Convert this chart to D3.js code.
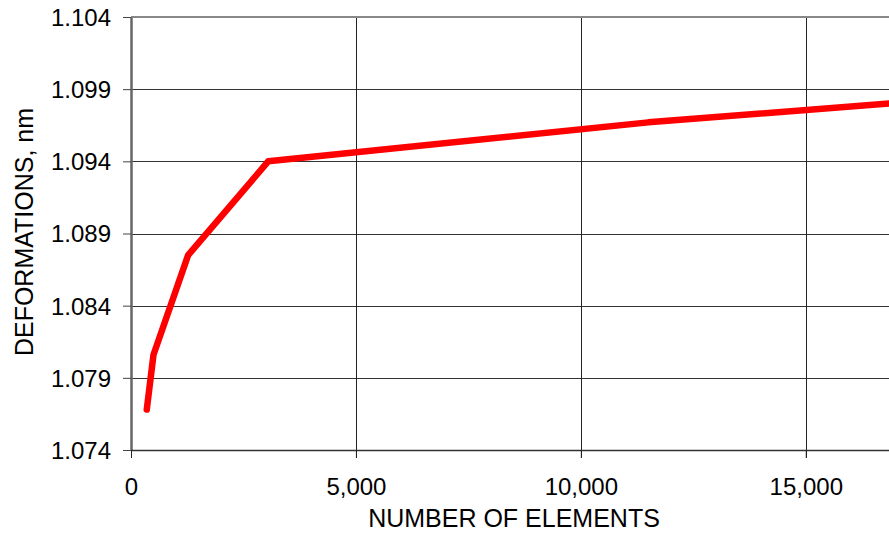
<!DOCTYPE html>
<html>
<head>
<meta charset="utf-8">
<script src="https://cdn.jsdelivr.net/npm/d3@7"></script>
<style>
  html, body { margin: 0; padding: 0; background: #fff; }
  svg { display: block; }
  text { font-family: "Liberation Sans", Arial, sans-serif; fill: #000; }
</style>
</head>
<body>
<svg id="chart" width="889" height="533"></svg>
<script>
// Data
const elements = [350, 500, 1270, 3050, 11500, 16850];
const deformations = [1.0768, 1.0806, 1.0875, 1.0940, 1.0967, 1.0980];
const yTicks = [1.074, 1.079, 1.084, 1.089, 1.094, 1.099, 1.104];
const xTicks = [0, 5000, 10000, 15000];
const xTitle = "NUMBER OF ELEMENTS";
const yTitle = "DEFORMATIONS, nm";

(function () {
const svg = d3.select("#chart");
const pLeft = 131, pRight = 889, pTop = 17, pBottom = 450;

const x = d3.scaleLinear().domain([0, 16850]).range([pLeft, pRight]);
const y = d3.scaleLinear().domain([1.074, 1.104]).range([pBottom, pTop]);

// horizontal grid
svg.append("g").selectAll("line").data(yTicks.slice(1, -1)).join("line")
  .attr("x1", pLeft).attr("x2", pRight)
  .attr("y1", d => Math.round(y(d)) + 0.5).attr("y2", d => Math.round(y(d)) + 0.5)
  .attr("stroke", "#333").attr("stroke-width", 1);

// vertical grid
svg.append("g").selectAll("line").data(xTicks.slice(1)).join("line")
  .attr("x1", d => Math.round(x(d)) + 0.5).attr("x2", d => Math.round(x(d)) + 0.5)
  .attr("y1", pTop).attr("y2", pBottom + 8)
  .attr("stroke", "#222").attr("stroke-width", 1);

// top border
svg.append("line").attr("x1", pLeft).attr("x2", pRight).attr("y1", pTop).attr("y2", pTop)
  .attr("stroke", "#888").attr("stroke-width", 2);

// y axis
const yAxis = d3.axisLeft(y).tickValues(yTicks).tickFormat(d3.format(".3f"))
  .tickSize(8).tickPadding(12).tickSizeOuter(0);
const gy = svg.append("g").attr("transform", `translate(${pLeft},0)`).call(yAxis);
gy.select(".domain").attr("stroke", "#666").attr("stroke-width", 2.5);
gy.selectAll(".tick line").attr("stroke", "#444").attr("stroke-width", 1);
gy.selectAll(".tick text").style("font-size", "24px").attr("dy", "0.35em")
  .style("font-family", '"Liberation Sans", Arial, sans-serif').attr("fill", "#000");

// x axis
const xAxis = d3.axisBottom(x).tickValues(xTicks).tickFormat(d3.format(",")).tickSize(8).tickPadding(20).tickSizeOuter(0);
const gx = svg.append("g").attr("transform", `translate(0,${pBottom})`).call(xAxis);
gx.select(".domain").attr("stroke", "#333").attr("stroke-width", 1.5);
gx.selectAll(".tick line").attr("stroke", "#222").attr("stroke-width", 1);
gx.selectAll(".tick text").style("font-size", "24px").attr("dy", "0.71em")
  .style("font-family", '"Liberation Sans", Arial, sans-serif').attr("fill", "#000");

// titles
svg.append("text").attr("x", 514).attr("y", 527).attr("text-anchor", "middle")
  .style("font-size", "25px").text(xTitle);
svg.append("text").attr("transform", "translate(33,232) rotate(-90)")
  .attr("text-anchor", "middle").style("font-size", "25px").text(yTitle);

// line
const data = elements.map((e, i) => ({ x: e, y: deformations[i] }));
svg.append("path").datum(data)
  .attr("fill", "none").attr("stroke", "#ff0000").attr("stroke-width", 6.5)
  .attr("stroke-linejoin", "round").attr("stroke-linecap", "round")
  .attr("d", d3.line().x(d => x(d.x)).y(d => y(d.y)));
})();
</script>
</body>
</html>
